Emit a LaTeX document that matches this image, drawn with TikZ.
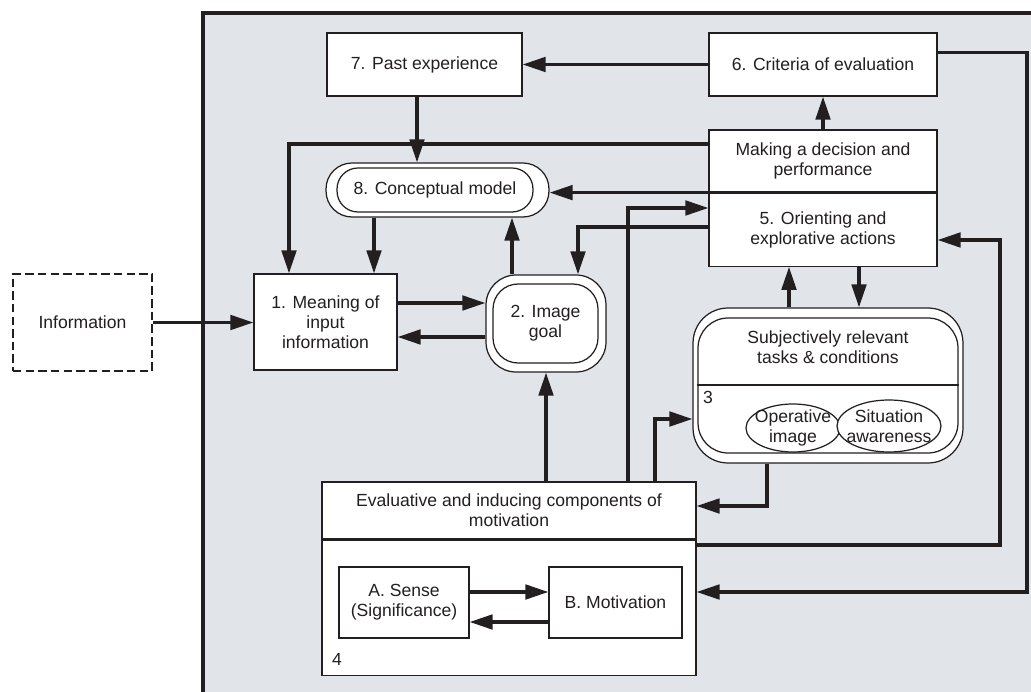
\documentclass[tikz,border=0pt]{standalone}
\usepackage{fontspec}
\setmainfont{Liberation Sans}
\usetikzlibrary{arrows.meta,positioning,calc,shapes.geometric}
\definecolor{tinte}{HTML}{231F20}
\definecolor{grau}{HTML}{E1E4E9}
\tikzset{
    %Define standard arrow tip
    >={Triangle[length=4.6mm,width=2.9mm]},
    font=\fontsize{10}{11.5}\selectfont,
    %Define style for boxes
    kasten/.style={
           rectangle,
           draw=tinte, line width=0.7pt,
           fill=white,
           inner sep=2pt,
           text=tinte,
           align=center},
    % Define style for rounded boxes
    rund/.style={kasten, rounded corners=#1},
    % Define style for the dashed input box
    extern/.style={kasten, dash pattern=on 4.8pt off 2.4pt, line width=1.2pt},
    % Define style for ellipses
    oval/.style={ellipse, draw=tinte, line width=0.7pt, fill=white, inner sep=0pt},
    % Define arrow style
    pil/.style={
	   ->,
	   draw=tinte,
	   line width=1.9pt}
}

\begin{document}
\begin{tikzpicture}[x=0.02cm, y=-0.02cm]
  \useasboundingbox (0,0) rectangle (1031,692);
  % grey field
  \fill[grau] (203,13) rectangle (1031,692);
  \draw[tinte, line width=1.9pt] (203,692) -- (203,13) -- (1031,13);

  % boxes
  \node[kasten, minimum width=3.9cm, minimum height=1.26cm] (past) at (424.5,64.5) {7. Past experience};
  \node[kasten, minimum width=4.56cm, minimum height=1.26cm] (crit) at (823,64.5) {6. Criteria of evaluation};
  \node[kasten, minimum width=4.56cm, minimum height=1.24cm] (dec) at (823,161) {Making a decision and\\performance};
  \node[kasten, minimum width=4.56cm, minimum height=1.46cm, below=0pt of dec] (orient) {5. Orienting and\\explorative actions};
  \node[rund=0.52cm, minimum width=4.46cm, minimum height=1.08cm] (model) at (437.5,190) {};
  \node[rund=0.42cm, minimum width=3.92cm, minimum height=0.88cm] (modelin) at (435,190) {8. Conceptual model};
  \node[rund=0.6cm, minimum width=2.4cm, minimum height=1.94cm] (goal) at (546,323.5) {};
  \node[rund=0.5cm, minimum width=2.1cm, minimum height=1.58cm] (goalin) at (545.5,323.5) {2. Image\\goal};
  \node[kasten, minimum width=2.86cm, minimum height=1.92cm] (mean) at (325.5,322) {1. Meaning of\\input\\information};
  \node[extern, minimum width=2.78cm, minimum height=1.94cm] (info) at (82.5,322.5) {Information};

  % block 3
  \node[rund=0.7cm, minimum width=5.4cm, minimum height=3.1cm] (tasks) at (828,385.5) {};
  \node[rund=0.6cm, minimum width=5.2cm, minimum height=2.7cm] (tasksin) at (828,385.5) {};
  \draw[tinte, line width=0.7pt] (tasksin.west |- 0,385) -- (tasksin.east |- 0,385);
  \node[text=tinte, align=center] (taskstext) at (828,347) {Subjectively relevant\\tasks \& conditions};
  \node[text=tinte] (drei) at (708,397) {3};
  \node[oval, minimum width=1.88cm, minimum height=0.96cm] (op) at (793,428) {};
  \node[text=tinte, align=center] (optext) at (op.center) {Operative\\image};
  \node[oval, minimum width=2.08cm, minimum height=1.04cm] (sit) at (889,426) {};
  \node[text=tinte, align=center] (sittext) at (sit.center) {Situation\\awareness};

  % block 4
  \node[kasten, minimum width=7.48cm, minimum height=1.14cm] (evalT) at (509,510.5) {Evaluative and inducing components of\\motivation};
  \node[kasten, minimum width=7.48cm, minimum height=2.7cm, below=0pt of evalT] (evalB) {};
  \node[text=tinte] (vier) at (337,659) {4};
  \node[kasten, minimum width=2.6cm, minimum height=1.42cm] (sense) at (404,602.5) {A. Sense\\(Significance)};
  \node[kasten, minimum width=2.66cm, minimum height=1.42cm] (motiv) at (615.5,602.5) {B. Motivation};

  % connectors
  \draw[pil] (info.east) -- (info.east -| mean.west);
  \draw[pil] (crit) -- (past);
  \draw[pil] (dec) -- (crit);
  \draw[pil] (417,0 |- past.south) -- (417,0 |- model.north);
  \draw[pil] ($(dec.west)+(0,-17)$) -| (289,0 |- mean.north);
  \draw[pil] (dec.south west) -- (dec.south west -| model.east);
  \draw[pil] (374,0 |- model.south) -- (374,0 |- mean.north);
  \draw[pil] (512,0 |- goal.north) -- (512,0 |- model.south);
  \draw[pil] (orient.west |- 0,227) -| (578,0 |- goal.north);
  \draw[pil] (628,0 |- evalT.north) |- (orient.west |- 0,208);
  \draw[pil] (mean.east |- 0,303) -- (goal.west |- 0,303);
  \draw[pil] (goal.west |- 0,337) -- (mean.east |- 0,337);
  \draw[pil] (evalT.north -| goal.south) -- (goal.south);
  \draw[pil] (789,0 |- tasks.north) -- (789,0 |- orient.south);
  \draw[pil] (859,0 |- orient.south) -- (859,0 |- tasks.north);
  \draw[pil] (655,0 |- evalT.north) |- (tasks.west |- 0,419);
  \draw[pil] (767,0 |- tasks.south) |- (evalT.east |- 0,506);
  \draw[pil] (evalB.east |- 0,545) -| (1000,240) -- (orient.east |- 0,240);
  \draw[pil] ($(crit.east)+(0,-12)$) -| (1027,592) -- (evalB.east |- 0,592);
  \draw[pil] (sense.east |- 0,592) -- (motiv.west |- 0,592);
  \draw[pil] (motiv.west |- 0,622) -- (sense.east |- 0,622);
\end{tikzpicture}
\end{document}
